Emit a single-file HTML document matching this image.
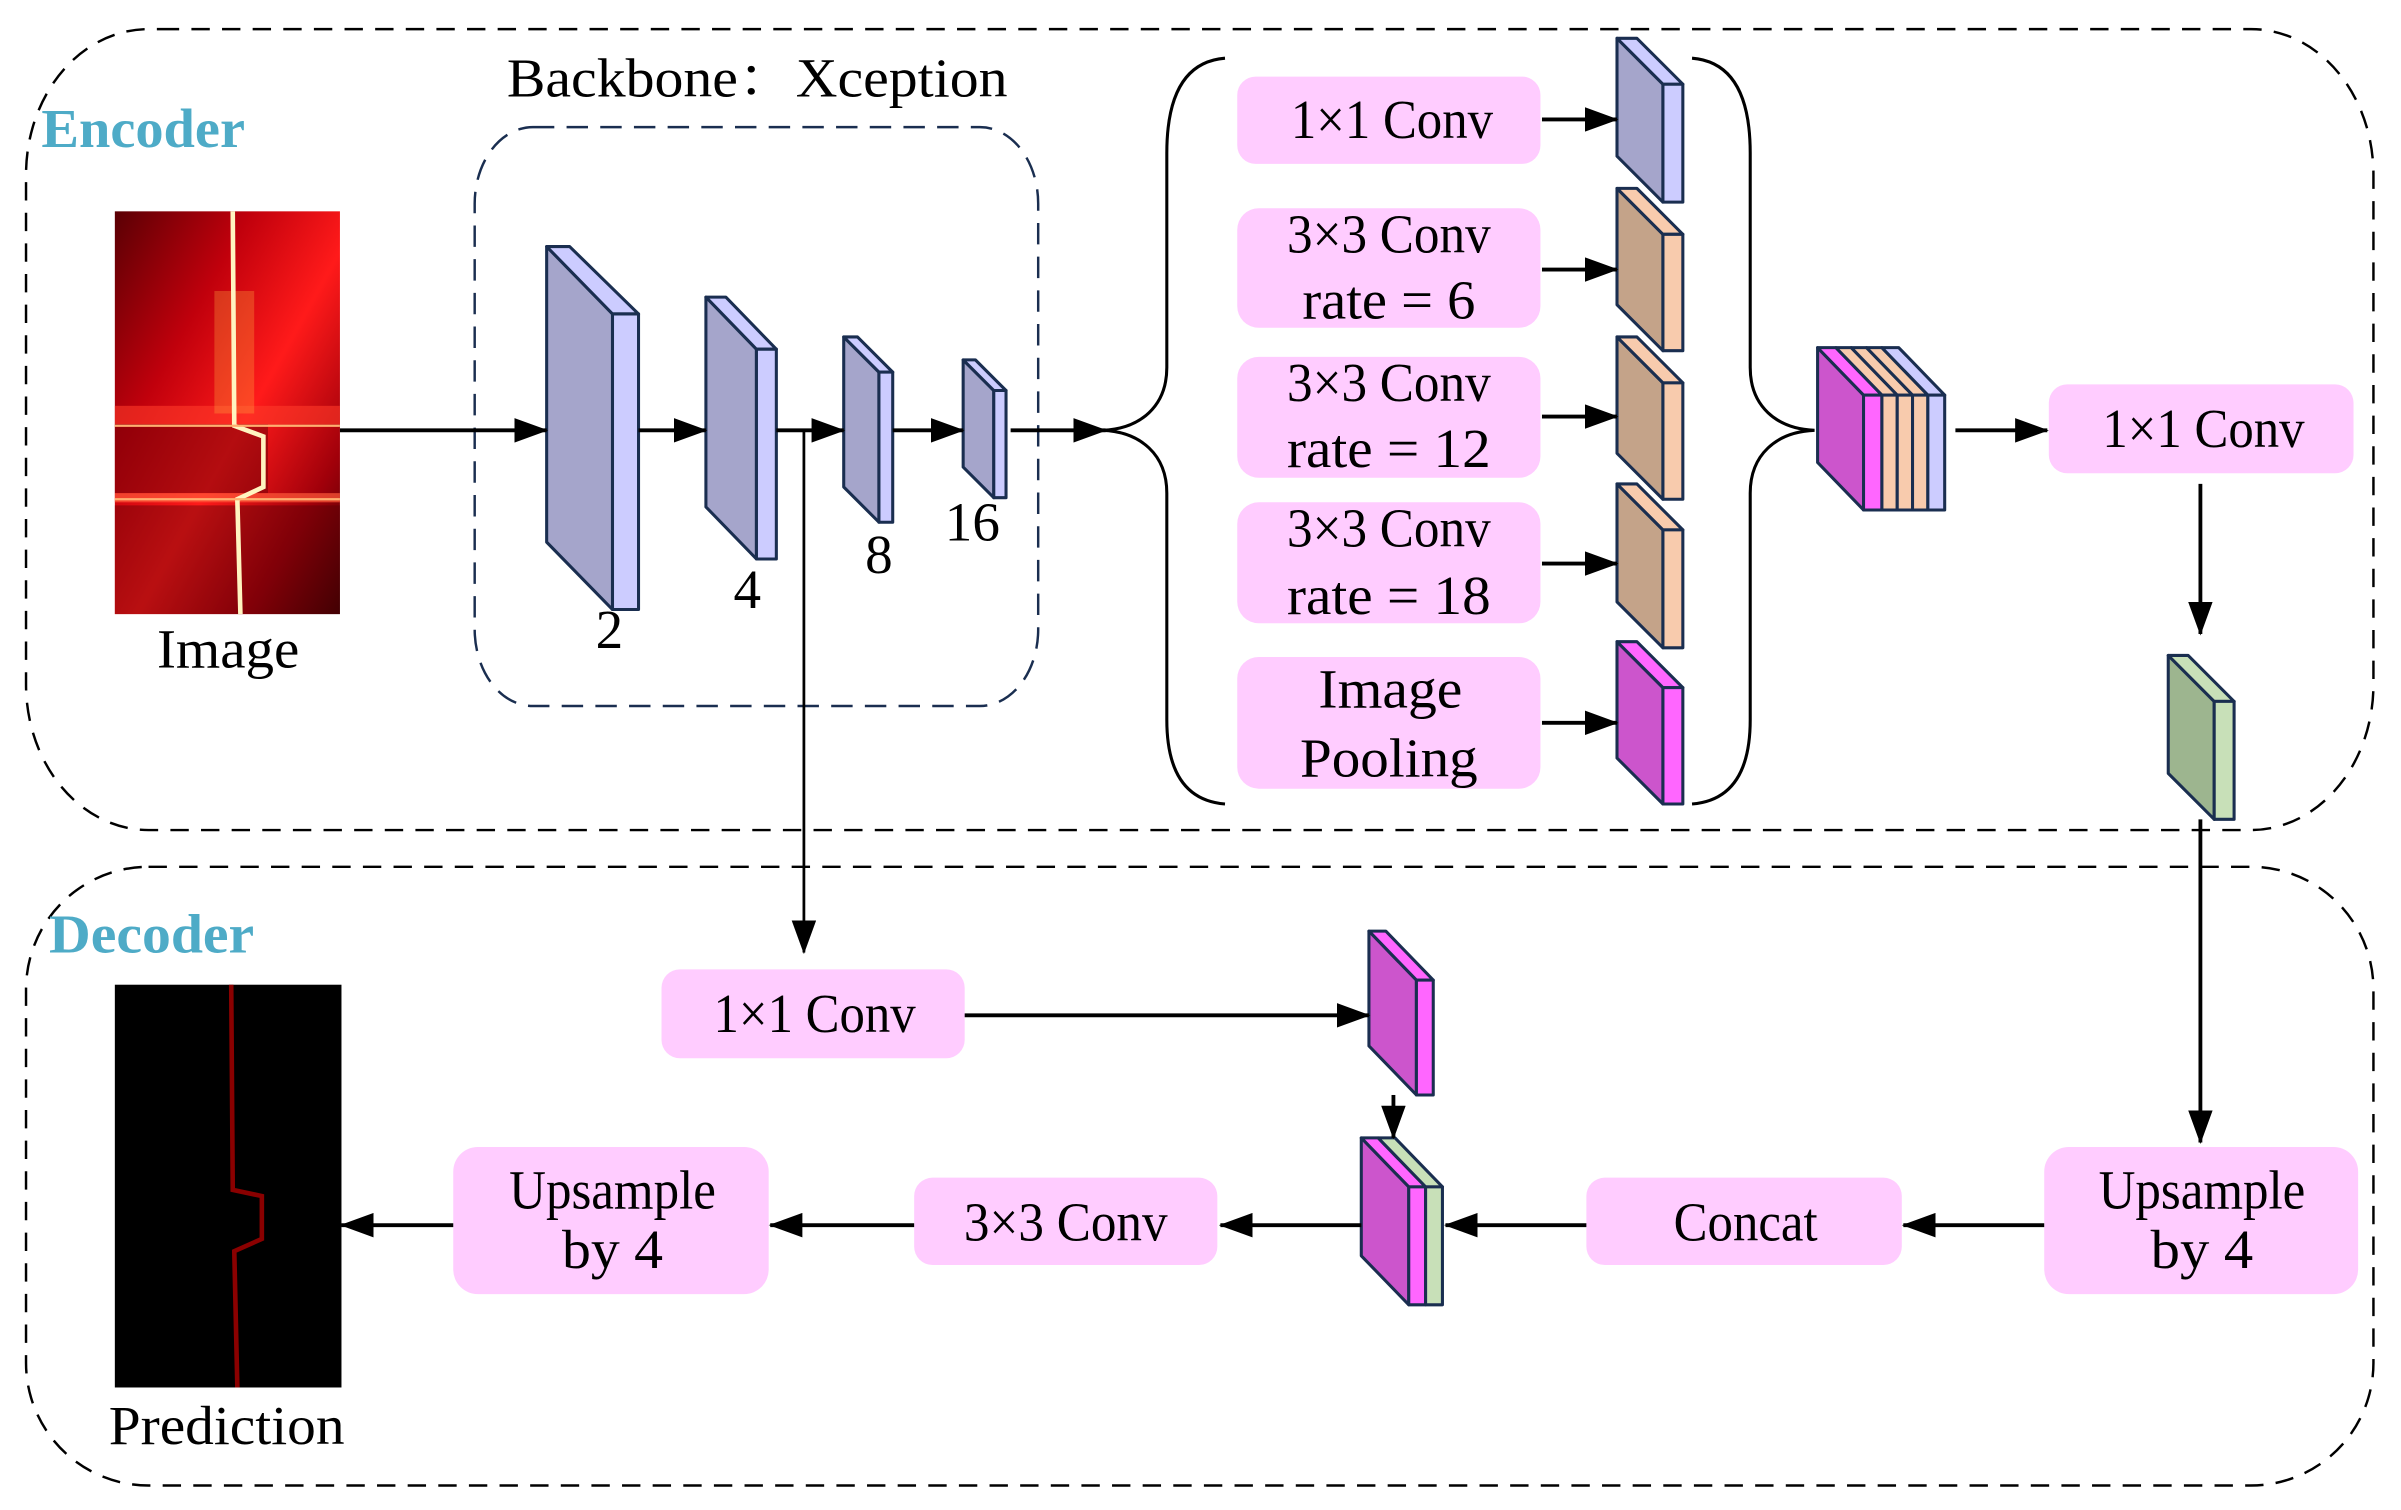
<!DOCTYPE html>
<html><head><meta charset="utf-8"><style>
html,body{margin:0;padding:0;background:#fff;}
svg{display:block;}
text{font-family:"Liberation Serif","Noto Serif CJK SC",serif;fill:#000;}
</style></head><body>
<svg width="2401" height="1510" viewBox="0 0 1568 986" preserveAspectRatio="none" xmlns="http://www.w3.org/2000/svg">
<defs>
<marker id="ah" markerWidth="22" markerHeight="16" refX="21" refY="8" orient="auto" markerUnits="userSpaceOnUse" viewBox="0 0 22 16">
<path d="M0,0 L22,8 L0,16 z" fill="#000"/>
</marker>
<linearGradient id="rg" x1="0" y1="0" x2="1" y2="1">
<stop offset="0" stop-color="#5a0004"/><stop offset="0.3" stop-color="#c0000c"/><stop offset="0.55" stop-color="#ff1a1a"/><stop offset="0.8" stop-color="#a0000a"/><stop offset="1" stop-color="#3a0002"/>
</linearGradient>
</defs>

<path d="M105,19 H1470 A80,95 0 0 1 1550,114 V447 A80,95 0 0 1 1470,542 H97 A80,95 0 0 1 17,447 V114 A80,95 0 0 1 97,19 Z" fill="none" stroke="#000" stroke-width="1.6" stroke-dasharray="12,8"/>
<path d="M97,566 H1470 A80,80 0 0 1 1550,646 V890 A80,80 0 0 1 1470,970 H97 A80,80 0 0 1 17,890 V646 A80,80 0 0 1 97,566 Z" fill="none" stroke="#000" stroke-width="1.6" stroke-dasharray="12,8"/>
<path d="M348,83 H640 A38,50 0 0 1 678,133 V411 A38,50 0 0 1 640,461 H348 A38,50 0 0 1 310,411 V133 A38,50 0 0 1 348,83 Z" fill="none" stroke="#1a2e50" stroke-width="1.6" stroke-dasharray="14,8"/>

<text x="27" y="96" font-size="36" font-weight="bold" style="fill:#4eabc7" textLength="133" lengthAdjust="spacingAndGlyphs">Encoder</text>
<text x="32" y="622" font-size="36" font-weight="bold" style="fill:#4eabc7" textLength="134" lengthAdjust="spacingAndGlyphs">Decoder</text>
<text x="331" y="63" font-size="36" textLength="327" lengthAdjust="spacingAndGlyphs">Backbone：Xception</text>

<rect x="75" y="138" width="147" height="263" fill="url(#rg)"/>
<rect x="75" y="265" width="147" height="12" fill="#ff3a2a" opacity="0.6"/>
<rect x="75" y="277" width="100" height="45" fill="#6a0006" opacity="0.5"/>
<rect x="75" y="322" width="147" height="6" fill="#ff5a3a" opacity="0.7"/>
<rect x="75" y="330" width="147" height="71" fill="#500004" opacity="0.4"/>
<rect x="140" y="190" width="26" height="80" fill="#ffb040" opacity="0.3"/>
<polyline points="152,138 153,278 172,285 172,318 155,326 157,401" fill="none" stroke="#fff4c0" stroke-width="3"/>
<line x1="75" y1="278" x2="222" y2="278" stroke="#ffb070" stroke-width="1.5"/>
<line x1="75" y1="326" x2="222" y2="326" stroke="#ffb070" stroke-width="1.5"/>
<text x="149" y="436" font-size="36" text-anchor="middle" textLength="93" lengthAdjust="spacingAndGlyphs">Image</text>

<rect x="75" y="643" width="148" height="263" fill="#000"/>
<polyline points="151,643 152,777 171,781 171,809 153,817 155,906" fill="none" stroke="#8a0000" stroke-width="3"/>
<text x="148" y="943" font-size="36" text-anchor="middle" textLength="154" lengthAdjust="spacingAndGlyphs">Prediction</text>

<g stroke="#1a2e50" stroke-width="2" stroke-linejoin="round">
<polygon points="357,161 400,205 400,398 357,354" fill="#a5a5cb"/>
<polygon points="357,161 372,161 417,205 400,205" fill="#ccccff"/>
<rect x="400" y="205" width="17" height="193" fill="#ccccff"/>
<polygon points="461,194 494,228 494,365 461,331" fill="#a5a5cb"/>
<polygon points="461,194 474,194 507,228 494,228" fill="#ccccff"/>
<rect x="494" y="228" width="13" height="137" fill="#ccccff"/>
<polygon points="551,220 574,243 574,341 551,318" fill="#a5a5cb"/>
<polygon points="551,220 560,220 583,243 574,243" fill="#ccccff"/>
<rect x="574" y="243" width="9" height="98" fill="#ccccff"/>
<polygon points="629,235 649,255 649,325 629,305" fill="#a5a5cb"/>
<polygon points="629,235 637,235 657,255 649,255" fill="#ccccff"/>
<rect x="649" y="255" width="8" height="70" fill="#ccccff"/>

<polygon points="1056,25 1086,55 1086,132 1056,102" fill="#a5a5cb"/>
<polygon points="1056,25 1069,25 1099,55 1086,55" fill="#ccccff"/>
<rect x="1086" y="55" width="13" height="77" fill="#ccccff"/>
<polygon points="1056,123 1086,153 1086,229 1056,199" fill="#c4a389"/>
<polygon points="1056,123 1069,123 1099,153 1086,153" fill="#f8cbad"/>
<rect x="1086" y="153" width="13" height="76" fill="#f8cbad"/>
<polygon points="1056,220 1086,250 1086,326 1056,296" fill="#c4a389"/>
<polygon points="1056,220 1069,220 1099,250 1086,250" fill="#f8cbad"/>
<rect x="1086" y="250" width="13" height="76" fill="#f8cbad"/>
<polygon points="1056,316 1086,346 1086,423 1056,393" fill="#c4a389"/>
<polygon points="1056,316 1069,316 1099,346 1086,346" fill="#f8cbad"/>
<rect x="1086" y="346" width="13" height="77" fill="#f8cbad"/>
<polygon points="1056,419 1086,449 1086,525 1056,495" fill="#cc55cc"/>
<polygon points="1056,419 1069,419 1099,449 1086,449" fill="#ff66ff"/>
<rect x="1086" y="449" width="13" height="76" fill="#ff66ff"/>

<polygon points="1187,227 1217,258 1217,333 1187,302" fill="#cc55cc"/>
<polygon points="1187,227 1199,227 1229,258 1217,258" fill="#ff66ff"/>
<polygon points="1199,227 1209,227 1239,258 1229,258" fill="#f8cbad"/>
<polygon points="1209,227 1219,227 1249,258 1239,258" fill="#f8cbad"/>
<polygon points="1219,227 1229,227 1259,258 1249,258" fill="#f8cbad"/>
<polygon points="1229,227 1240,227 1270,258 1259,258" fill="#ccccff"/>
<rect x="1217" y="258" width="12" height="75" fill="#ff66ff"/>
<rect x="1229" y="258" width="10" height="75" fill="#f8cbad"/>
<rect x="1239" y="258" width="10" height="75" fill="#f8cbad"/>
<rect x="1249" y="258" width="10" height="75" fill="#f8cbad"/>
<rect x="1259" y="258" width="11" height="75" fill="#ccccff"/>

<polygon points="1416,428 1446,458 1446,535 1416,505" fill="#9db58f"/>
<polygon points="1416,428 1429,428 1459,458 1446,458" fill="#c8e0b8"/>
<rect x="1446" y="458" width="13" height="77" fill="#c8e0b8"/>

<polygon points="894,608 925,640 925,715 894,683" fill="#cc55cc"/>
<polygon points="894,608 905,608 936,640 925,640" fill="#ff66ff"/>
<rect x="925" y="640" width="11" height="75" fill="#ff66ff"/>

<polygon points="889,743 920,775 920,852 889,820" fill="#cc55cc"/>
<polygon points="889,743 900,743 931,775 920,775" fill="#ff66ff"/>
<polygon points="900,743 911,743 942,775 931,775" fill="#c8e0b8"/>
<rect x="920" y="775" width="11" height="77" fill="#ff66ff"/>
<rect x="931" y="775" width="11" height="77" fill="#c8e0b8"/>
</g>

<g font-size="36" text-anchor="middle">
<text x="398" y="423">2</text>
<text x="488" y="397">4</text>
<text x="574" y="374">8</text>
<text x="635" y="353">16</text>
</g>

<path d="M800,38 C775,40 762,60 762,100 V240 C762,265 745,280 720,281 C745,282 762,297 762,322 V470 C762,505 775,523 800,525" fill="none" stroke="#000" stroke-width="2"/>
<path d="M1105,38 C1130,40 1143,60 1143,100 V240 C1143,265 1160,280 1185,281 C1160,282 1143,297 1143,322 V470 C1143,505 1130,523 1105,525" fill="none" stroke="#000" stroke-width="2"/>

<g fill="#ffccff">
<rect x="808" y="50" width="198" height="57" rx="12"/>
<rect x="808" y="136" width="198" height="78" rx="14"/>
<rect x="808" y="233" width="198" height="79" rx="14"/>
<rect x="808" y="328" width="198" height="79" rx="14"/>
<rect x="808" y="429" width="198" height="86" rx="14"/>
<rect x="1338" y="251" width="199" height="58" rx="12"/>
<rect x="1335" y="749" width="205" height="96" rx="16"/>
<rect x="1036" y="769" width="206" height="57" rx="12"/>
<rect x="597" y="769" width="198" height="57" rx="12"/>
<rect x="296" y="749" width="206" height="96" rx="16"/>
<rect x="432" y="633" width="198" height="58" rx="12"/>
</g>
<g font-size="36" text-anchor="middle">
<text x="909" y="90" textLength="132" lengthAdjust="spacingAndGlyphs">1×1 Conv</text>
<text x="907" y="165" textLength="133" lengthAdjust="spacingAndGlyphs">3×3 Conv</text>
<text x="907" y="208" textLength="113" lengthAdjust="spacingAndGlyphs">rate = 6</text>
<text x="907" y="262" textLength="133" lengthAdjust="spacingAndGlyphs">3×3 Conv</text>
<text x="907" y="305" textLength="133" lengthAdjust="spacingAndGlyphs">rate = 12</text>
<text x="907" y="357" textLength="133" lengthAdjust="spacingAndGlyphs">3×3 Conv</text>
<text x="907" y="401" textLength="133" lengthAdjust="spacingAndGlyphs">rate = 18</text>
<text x="908" y="462" textLength="94" lengthAdjust="spacingAndGlyphs">Image</text>
<text x="907" y="507" textLength="116" lengthAdjust="spacingAndGlyphs">Pooling</text>
<text x="1439" y="292" textLength="132" lengthAdjust="spacingAndGlyphs">1×1 Conv</text>
<text x="1438" y="789" textLength="135" lengthAdjust="spacingAndGlyphs">Upsample</text>
<text x="1438" y="828" textLength="67" lengthAdjust="spacingAndGlyphs">by  4</text>
<text x="1140" y="810" textLength="94" lengthAdjust="spacingAndGlyphs">Concat</text>
<text x="696" y="810" textLength="133" lengthAdjust="spacingAndGlyphs">3×3 Conv</text>
<text x="400" y="789" textLength="135" lengthAdjust="spacingAndGlyphs">Upsample</text>
<text x="400" y="828" textLength="66" lengthAdjust="spacingAndGlyphs">by  4</text>
<text x="532" y="674" textLength="132" lengthAdjust="spacingAndGlyphs">1×1 Conv</text>
</g>

<g stroke="#000" stroke-width="2.5" fill="none" marker-end="url(#ah)">
<line x1="222" y1="281" x2="357" y2="281"/>
<line x1="417" y1="281" x2="461" y2="281"/>
<line x1="507" y1="281" x2="551" y2="281"/>
<line x1="583" y1="281" x2="629" y2="281"/>
<line x1="660" y1="281" x2="722" y2="281"/>
<line x1="1007" y1="78" x2="1056" y2="78"/>
<line x1="1007" y1="176" x2="1056" y2="176"/>
<line x1="1007" y1="272" x2="1056" y2="272"/>
<line x1="1007" y1="368" x2="1056" y2="368"/>
<line x1="1007" y1="472" x2="1056" y2="472"/>
<line x1="1277" y1="281" x2="1337" y2="281"/>
<line x1="1437" y1="316" x2="1437" y2="414"/>
<line x1="1437" y1="535" x2="1437" y2="746"/>
<line x1="1335" y1="800" x2="1243" y2="800"/>
<line x1="1036" y1="800" x2="944" y2="800"/>
<line x1="889" y1="800" x2="797" y2="800"/>
<line x1="597" y1="800" x2="503" y2="800"/>
<line x1="296" y1="800" x2="223" y2="800"/>
<line x1="630" y1="663" x2="894" y2="663"/>
<line x1="910" y1="715" x2="910" y2="743"/>
</g>
<line x1="525" y1="281" x2="525" y2="622" stroke="#000" stroke-width="1.8" marker-end="url(#ah)"/>
</svg>
</body></html>
